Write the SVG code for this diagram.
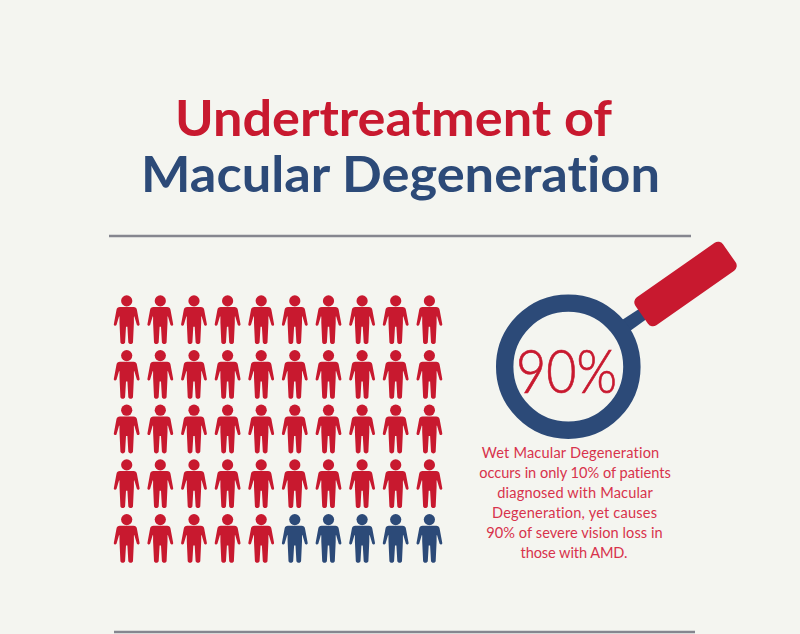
<svg xmlns="http://www.w3.org/2000/svg" width="800" height="634" viewBox="0 0 800 634">
<style>
text{font-family:"Lato","Liberation Sans",sans-serif;text-anchor:middle;font-variant-ligatures:none}
.t{font-size:50.5px;font-weight:700}
.b{font-size:14.6px;fill:#d8334c}
.r{fill:#c8192f}.n{fill:#2c4a78}
.rule{stroke:#85868f;stroke-width:2.4}
.pct{stroke:#c8192f;stroke-width:.7}
</style>
<defs>
<g id="p"><circle cx="0" cy="0.2" r="5.6"/><path d="M-6.8 6.4H6.8C8.8 6.4 9.8 7.4 10.2 9L12.9 23.6C13 25.2 11 25.6 10.2 24.4L7.6 15.6L7.2 16V22L6.3 41.6C6.2 44 1.8 44 1.6 41.6L0.7 26H-0.7L-1.6 41.6C-1.8 44-6.2 44-6.3 41.6L-7.2 22V16L-7.6 15.6L-10.2 24.4C-11 25.6-13 25.2-12.9 23.6L-10.2 9C-9.8 7.4-8.8 6.4-6.8 6.4Z"/></g>
</defs>
<rect width="800" height="634" fill="#f4f5f0"/>
<g id="title">
<text class="t r" x="393.5" y="135.7" textLength="437" lengthAdjust="spacingAndGlyphs">Undertreatment of</text>
<text class="t n" x="400.5" y="191.7" textLength="519" lengthAdjust="spacingAndGlyphs">Macular Degeneration</text>
</g>
<line class="rule" x1="109" y1="236" x2="691" y2="236"/>
<line class="rule" x1="114" y1="632" x2="695" y2="632"/>
<g id="people">
<g class="r">
<use href="#p" x="126.7" y="300.7"/><use href="#p" x="160.3" y="300.7"/><use href="#p" x="194" y="300.7"/><use href="#p" x="227.6" y="300.7"/><use href="#p" x="261.2" y="300.7"/><use href="#p" x="294.8" y="300.7"/><use href="#p" x="328.5" y="300.7"/><use href="#p" x="362.1" y="300.7"/><use href="#p" x="395.7" y="300.7"/><use href="#p" x="429.4" y="300.7"/>
<use href="#p" x="126.7" y="355.4"/><use href="#p" x="160.3" y="355.4"/><use href="#p" x="194" y="355.4"/><use href="#p" x="227.6" y="355.4"/><use href="#p" x="261.2" y="355.4"/><use href="#p" x="294.8" y="355.4"/><use href="#p" x="328.5" y="355.4"/><use href="#p" x="362.1" y="355.4"/><use href="#p" x="395.7" y="355.4"/><use href="#p" x="429.4" y="355.4"/>
<use href="#p" x="126.7" y="410"/><use href="#p" x="160.3" y="410"/><use href="#p" x="194" y="410"/><use href="#p" x="227.6" y="410"/><use href="#p" x="261.2" y="410"/><use href="#p" x="294.8" y="410"/><use href="#p" x="328.5" y="410"/><use href="#p" x="362.1" y="410"/><use href="#p" x="395.7" y="410"/><use href="#p" x="429.4" y="410"/>
<use href="#p" x="126.7" y="464.7"/><use href="#p" x="160.3" y="464.7"/><use href="#p" x="194" y="464.7"/><use href="#p" x="227.6" y="464.7"/><use href="#p" x="261.2" y="464.7"/><use href="#p" x="294.8" y="464.7"/><use href="#p" x="328.5" y="464.7"/><use href="#p" x="362.1" y="464.7"/><use href="#p" x="395.7" y="464.7"/><use href="#p" x="429.4" y="464.7"/>
<use href="#p" x="126.7" y="519.4"/><use href="#p" x="160.3" y="519.4"/><use href="#p" x="194" y="519.4"/><use href="#p" x="227.6" y="519.4"/><use href="#p" x="261.2" y="519.4"/>
</g>
<g class="n">
<use href="#p" x="294.8" y="519.4"/><use href="#p" x="328.5" y="519.4"/><use href="#p" x="362.1" y="519.4"/><use href="#p" x="395.7" y="519.4"/><use href="#p" x="429.4" y="519.4"/>
</g>
</g>
<g id="magnifier">
<polygon class="n" points="622,320 642,307 648,318 630,331"/>
<circle cx="568.3" cy="366.7" r="63.6" fill="none" stroke="#2c4a78" stroke-width="17.4"/>
<rect class="r" x="632" y="267" width="107" height="34" rx="6" transform="rotate(-35 685.5 284)"/>
<text x="566.5" y="393" font-size="61" font-weight="300" class="r pct" textLength="101" lengthAdjust="spacingAndGlyphs">90%</text>
</g>
<g id="caption">
<text class="b" x="570.5" y="457.7" textLength="177.5">Wet Macular Degeneration</text>
<text class="b" x="575" y="477.7" textLength="191.5">occurs in only 10% of patients</text>
<text class="b" x="575" y="497.5" textLength="155.5">diagnosed with Macular</text>
<text class="b" x="574.5" y="517.5" textLength="165">Degeneration, yet causes</text>
<text class="b" x="574.5" y="538" textLength="176.5">90% of severe vision loss in</text>
<text class="b" x="574" y="558" textLength="107">those with AMD.</text>
</g>
</svg>
